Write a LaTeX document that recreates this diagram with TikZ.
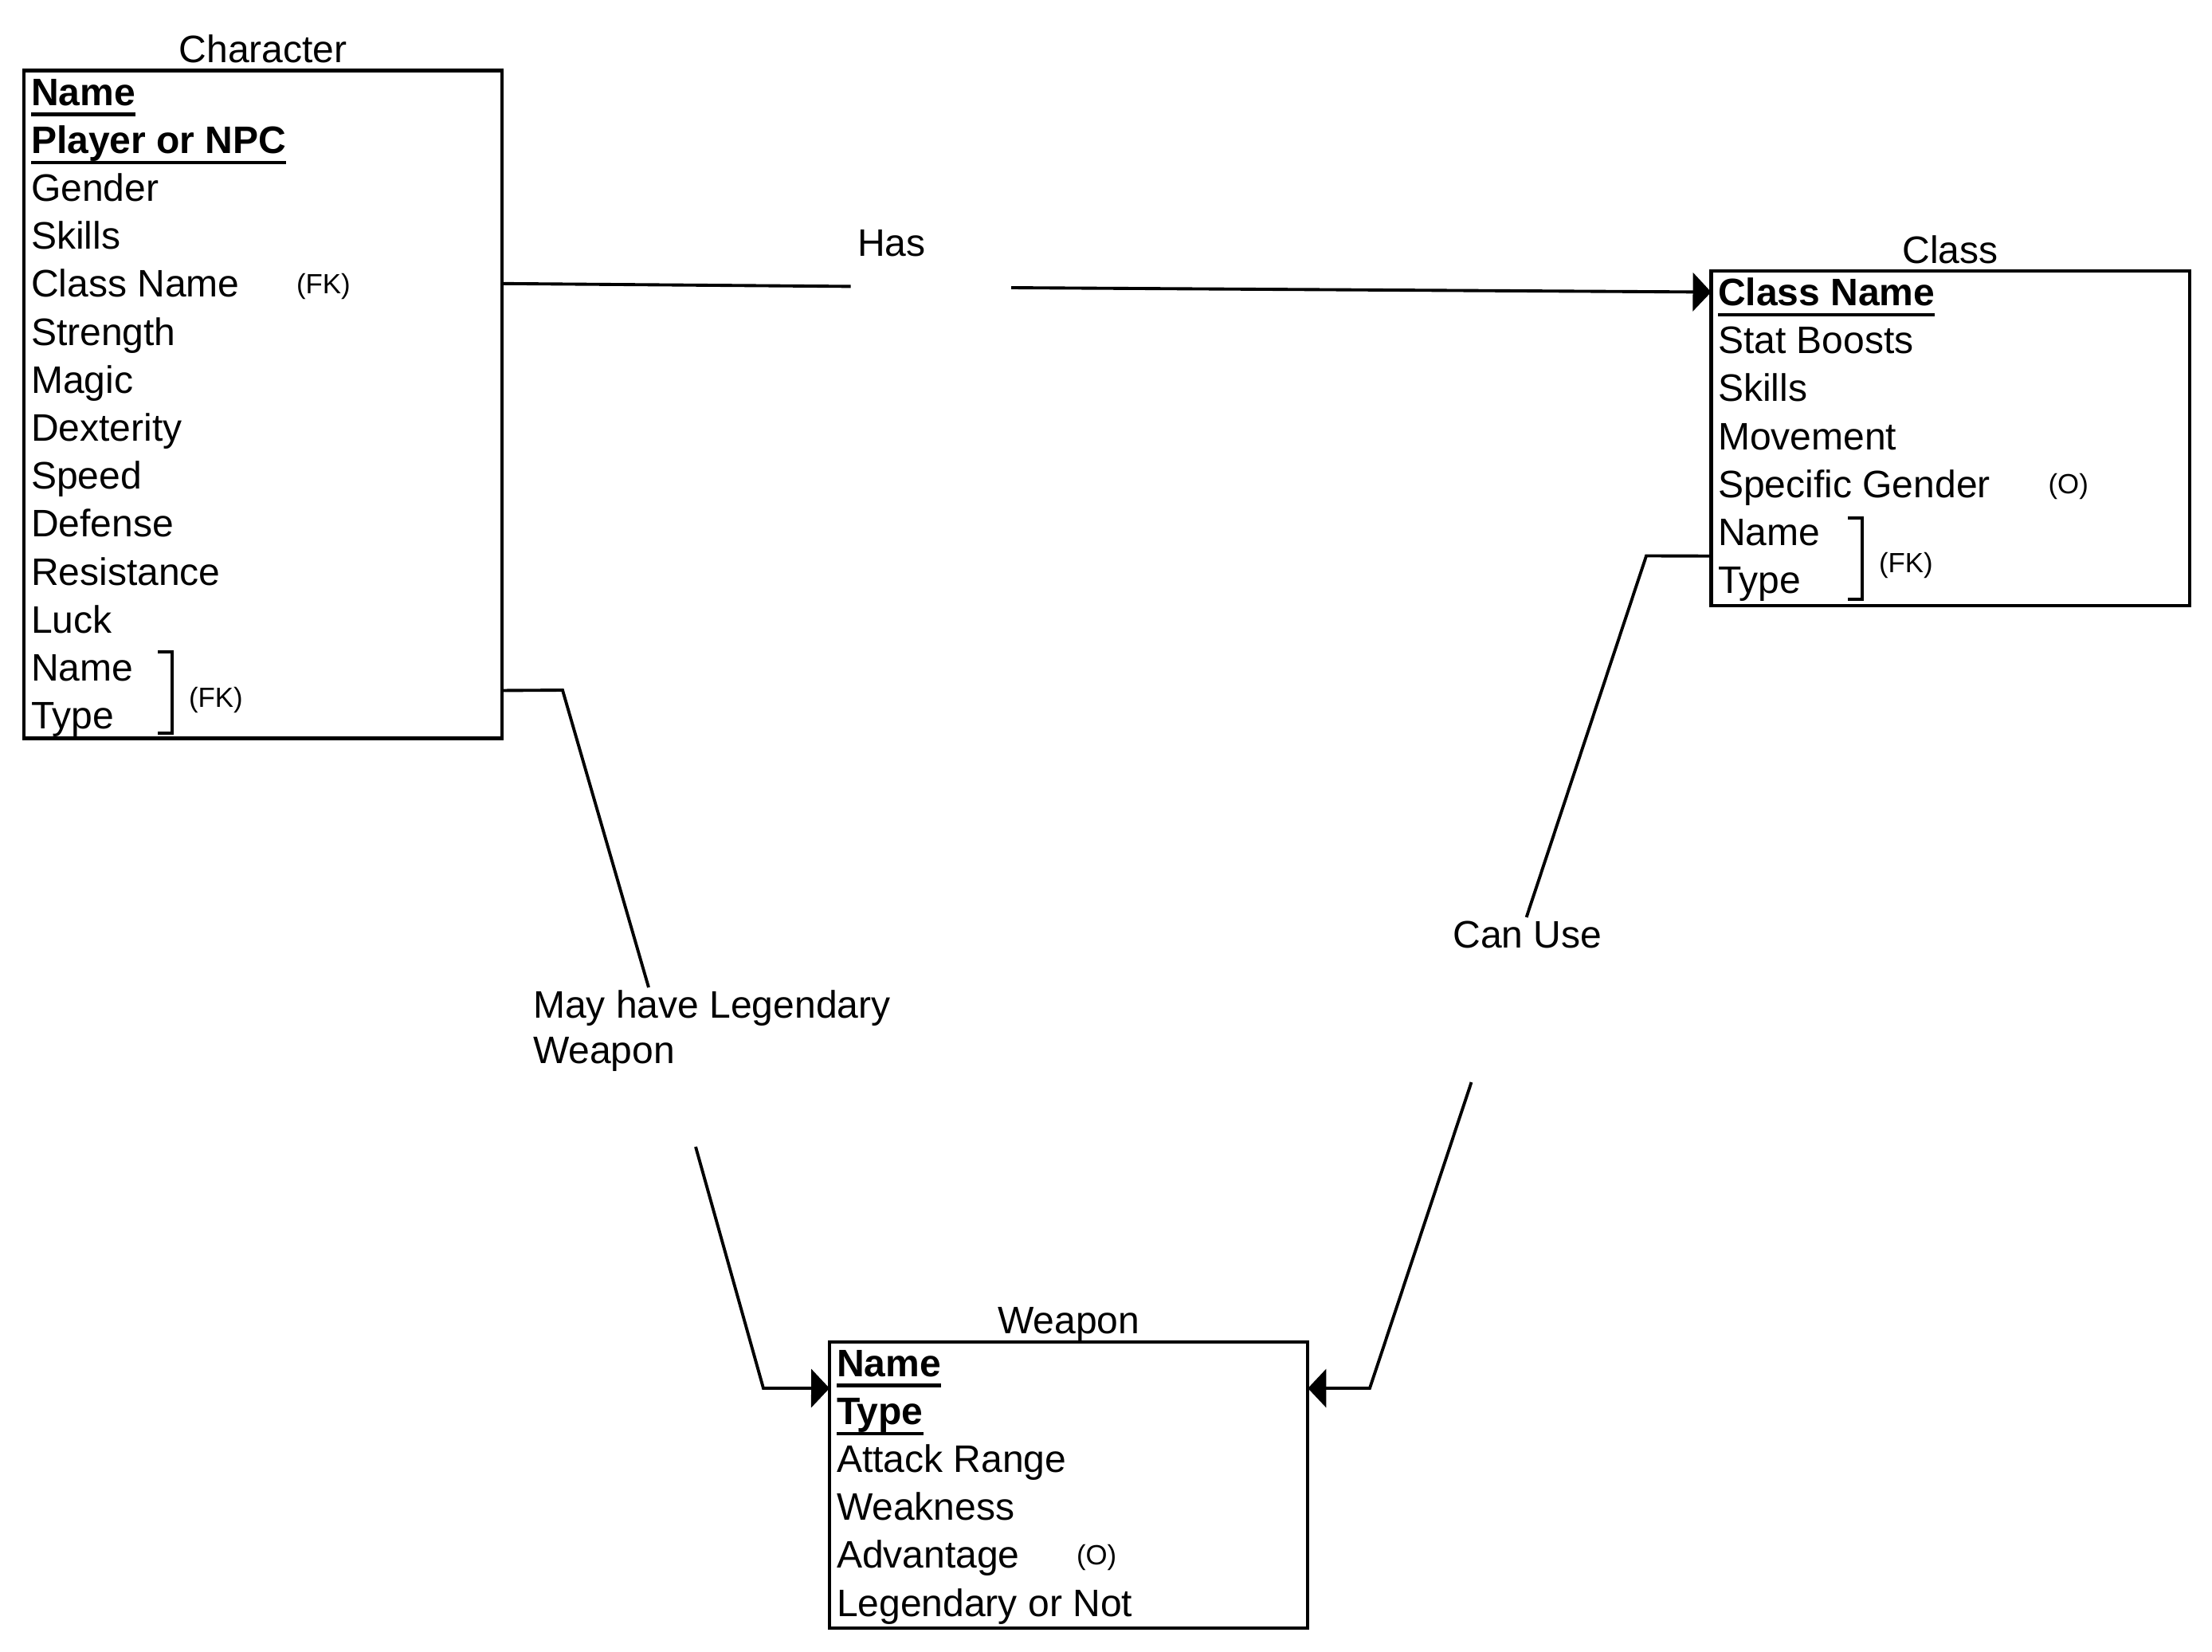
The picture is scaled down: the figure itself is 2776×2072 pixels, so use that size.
\documentclass[tikz,border=0pt]{standalone}
\usepackage{fontspec}
\setmainfont{Liberation Sans}
\usetikzlibrary{arrows.meta,calc}

% primary-key attribute: bold with an underline set a little below the baseline
\newsavebox\pkbox
\newcommand{\pkey}[1]{\sbox\pkbox{\bfseries #1}\rlap{\rule[-0.135cm]{\wd\pkbox}{0.042cm}}\usebox\pkbox}

\begin{document}
\begin{tikzpicture}[x=0.01cm,y=-0.01cm,
  every node/.style={inner sep=0pt, outer sep=0pt, font=\fontsize{13.66}{16}\selectfont},
  entity/.style={draw, line width=1.2pt, rectangle, anchor=north west, minimum width=6cm},
  etitle/.style={anchor=base},
  attr/.style={anchor=west, text height=0.34cm, text depth=0cm},
  note/.style={anchor=west, font=\fontsize{9.9}{12}\selectfont, text height=0.25cm, text depth=0cm},
  rel/.style={line width=1.1pt},
  fkbr/.style={line width=1.2pt},
  tip/.style={-{Triangle[length=0.23cm,width=0.48cm]}}
]
\useasboundingbox (0,0) rectangle (2776,2072);

% ---------- Character ----------
\node[entity, minimum height=8.375cm] (chr) at (30,88.5) {};
\node[etitle] (chrT) at ([yshift=0.1cm]chr.north) {Character};
\foreach \t [count=\i from 0] in {{\pkey{Name}},{\pkey{Player or NPC}},Gender,Skills,Class Name,Strength,Magic,Dexterity,Speed,Defense,Resistance,Luck,Name,Type}
  \node[attr] (c\i) at (39,115+60.2*\i) {\t};
\node[note] (chrfk1) at (372,356) {(FK)};
\draw[fkbr] (198,818) -- (216,818) -- (216,920) -- (198,920);
\node[note] (chrfk2) at (237,875) {(FK)};

% ---------- Class ----------
\node[entity, minimum height=4.195cm] (cls) at (2147.5,340) {};
\node[etitle] (clsT) at ([yshift=0.1cm]cls.north) {Class};
\foreach \t [count=\i from 0] in {{\pkey{Class Name}},Stat Boosts,Skills,Movement,Specific Gender,Name,Type}
  \node[attr] (k\i) at (2156,366.5+60.2*\i) {\t};
\node[note] (clso) at (2570.6,607) {(O)};
\draw[fkbr] (2319,650) -- (2337,650) -- (2337,752) -- (2319,752);
\node[note] (clsfk) at (2358,706) {(FK)};

% ---------- Weapon ----------
\node[entity, minimum height=3.594cm] (wpn) at (1041,1683.6) {};
\node[etitle] (wpnT) at ([yshift=0.1cm]wpn.north) {Weapon};
\foreach \t [count=\i from 0] in {{\pkey{Name}},{\pkey{Type}},Attack Range,Weakness,Advantage,Legendary or Not}
  \node[attr] (w\i) at (1050,1710+60.2*\i) {\t};
\node[note] (wpno) at (1351,1951) {(O)};

% ---------- relationship labels ----------
\node[attr, anchor=center] (has) at (1119,304.5) {Has};
\node[anchor=north west, align=left, font=\fontsize{13.66}{16.1}\selectfont] (leg) at (669,1243) {May have Legendary\\Weapon};
\node[attr, anchor=center] (canuse) at (1917,1172) {Can Use};

% ---------- connector break and bend points ----------
\coordinate (hasA) at (1067.5,359.4);
\coordinate (hasB) at (1269,361);
\coordinate (legK) at (706,866);
\coordinate (legA) at (814,1239);
\coordinate (legB) at (873,1439);
\coordinate (legC) at (958,1742);
\coordinate (canK) at (2066,697.5);
\coordinate (canA) at (1915.6,1151);
\coordinate (canB) at (1846.5,1358);
\coordinate (canC) at (1719,1742);

% ---------- connectors ----------
\draw[rel] (chr.east |- c4) -- (hasA);
\draw[rel,tip] (hasB) -- (cls.west |- k0);

\draw[rel] ([yshift=0.6cm]chr.south east) -- (legK) -- (legA);
\draw[rel,tip] (legB) -- (legC) -- ([yshift=-0.584cm]wpn.north west);

\draw[rel] ([yshift=0.62cm]cls.south west) -- (canK) -- (canA);
\draw[rel,tip] (canB) -- (canC) -- ([yshift=-0.584cm]wpn.north east);
\end{tikzpicture}
\end{document}
